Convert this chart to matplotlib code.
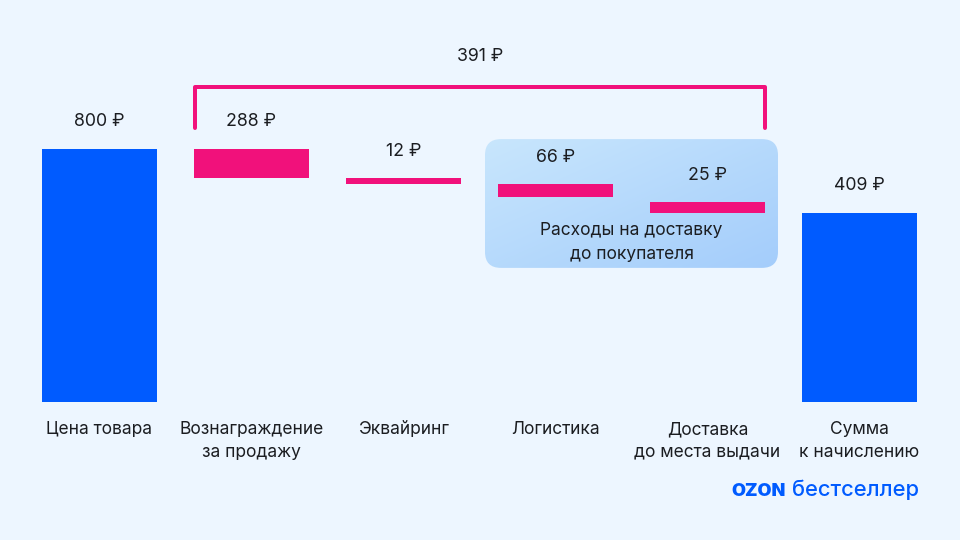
import numpy as np
import matplotlib
matplotlib.use("Agg")
import matplotlib.pyplot as plt
from matplotlib.patches import FancyBboxPatch
from matplotlib.colors import LinearSegmentedColormap

plt.rcParams['font.family'] = ['Inter', 'DejaVu Sans']

# ---- data ----
categories = ["Цена товара", "Вознаграждение\nза продажу", "Эквайринг",
              "Логистика", "Доставка\nдо места выдачи", "Сумма\nк начислению"]
amounts = [800, 288, 12, 66, 25, 409]          # value labels, ₽
# bar spans as drawn in the picture (stylised, in the first bar's scale)
bar_bottoms = [0, 708, 689, 648, 598, 0]
bar_tops = [800, 800, 708, 689, 632, 598]
bar_kinds = ["total", "cost", "cost", "cost", "cost", "total"]
bracket_total = 391
group_label = "Расходы на доставку\nдо покупателя"
group_members = [3, 4]

BG = "#EDF6FF"
BLUE = "#005BFF"
PINK = "#F1117B"
TXT = "#1B1D21"
FS = 12.5

W, H = 960, 540
fig = plt.figure(figsize=(W / 100, H / 100), dpi=100, facecolor=BG)
ax = fig.add_axes([0, 0, 1, 1])
ax.set_facecolor(BG)

# axes scale: category step = 152 px, first center at 99.5 px; 800 units = 253 px, baseline at 402 px
step_px, x0_px = 152.0, 99.5
ppu = 253.0 / 800.0
base_px = 402.0
ax.set_xlim(-x0_px / step_px, (W - x0_px) / step_px)
ax.set_ylim(-(H - base_px) / ppu, base_px / ppu)
ax.axis("off")

px_y = 1 / ppu          # one pixel in y data units
px_x = 1 / step_px      # one pixel in x data units
bw = 115 * px_x

x = np.arange(len(categories))

# grouped rounded box with gradient
gx0 = group_members[0] - bw / 2 - 13 * px_x
gx1 = group_members[-1] + bw / 2 + 13 * px_x
gy1 = max(bar_tops[i] for i in group_members) + 45 * px_y
gy0 = min(bar_bottoms[i] for i in group_members) - 55 * px_y
r = 16 * px_x
box = FancyBboxPatch((gx0, gy0), gx1 - gx0, gy1 - gy0,
                     boxstyle=f"round,pad=0,rounding_size={r}",
                     mutation_aspect=(px_y / px_x),
                     facecolor="none", edgecolor="none", zorder=1)
ax.add_patch(box)
gx, gy = np.meshgrid(np.linspace(0, 1, 64), np.linspace(0, 1, 64))
grad = (gx + gy) / 2
cmap = LinearSegmentedColormap.from_list("g", ["#C8E6FD", "#A4CDFB"])
im = ax.imshow(grad, extent=[gx0, gx1, gy0, gy1], origin="upper", cmap=cmap,
               aspect="auto", interpolation="bilinear", zorder=1)
im.set_clip_path(box)
ax.text((gx0 + gx1) / 2, gy0 + 25.5 * px_y, group_label, ha="center", va="center",
        fontsize=FS, color=TXT, linespacing=1.5, zorder=3)

# bars
for i in range(len(categories)):
    col = BLUE if bar_kinds[i] == "total" else PINK
    ax.bar(x[i], bar_tops[i] - bar_bottoms[i], bottom=bar_bottoms[i], width=bw,
           color=col, linewidth=0, zorder=2)
    ax.annotate(f"{amounts[i]} ₽", (x[i], bar_tops[i]), xytext=(0, 27 * 0.72),
                textcoords="offset points", ha="center", va="center",
                fontsize=FS + 0.3, color=TXT, zorder=3)
    ax.annotate(categories[i], (x[i], 0), xytext=(0, -19 * 0.72),
                textcoords="offset points", ha="center", va="top",
                fontsize=FS, color=TXT, linespacing=1.45, zorder=3)

# bracket over cost bars
bx0 = x[1] - bw / 2 + 0.5 * px_x
bx1 = x[4] + bw / 2
by_top = max(bar_tops) + 62 * px_y
by_bot = max(bar_tops) + 21 * px_y
ax.plot([bx0, bx0, bx1, bx1], [by_bot, by_top, by_top, by_bot], color=PINK,
        lw=4 * 0.72, solid_capstyle="round", solid_joinstyle="round", zorder=3)
ax.text((bx0 + bx1) / 2, by_top + 31 * px_y, f"{bracket_total} ₽", ha="center",
        va="center", fontsize=FS + 0.3, color=TXT)

# logo
fig.text(786 / W, 1 - 491 / H, "OZON", ha="right", va="center", fontsize=13,
         fontweight="black", color=BLUE, family=["Inter", "DejaVu Sans"])
fig.text(792 / W, 1 - 490 / H, "бестселлер", ha="left", va="center", fontsize=15.8,
         fontweight="medium", color=BLUE)

fig.savefig("out.png", dpi=100, facecolor=BG)
